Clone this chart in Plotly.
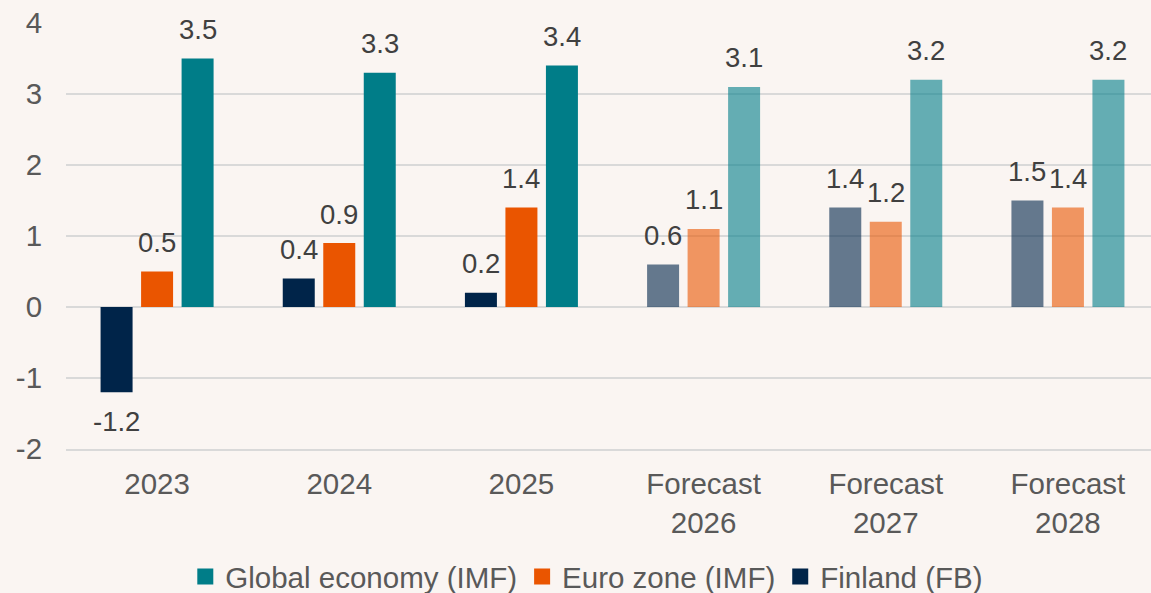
import plotly.graph_objects as go

categories = ["2023", "2024", "2025", "Forecast<br>2026", "Forecast<br>2027", "Forecast<br>2028"]
finland = [-1.2, 0.4, 0.2, 0.6, 1.4, 1.5]
euro_zone = [0.5, 0.9, 1.4, 1.1, 1.2, 1.4]
global_economy = [3.5, 3.3, 3.4, 3.1, 3.2, 3.2]
is_forecast = [False, False, False, True, True, True]
y_ticks = [-2, -1, 0, 1, 2, 3, 4]
y_tick_labels = ["-2", "-1", "0", "1", "2", "3", "4"]

BG = "#FAF5F2"
FONT = "Liberation Sans, Arial, sans-serif"
series = [
    ("Finland (FB)", finland, "0,36,73", -40.5),
    ("Euro zone (IMF)", euro_zone, "234,85,0", 0.0),
    ("Global economy (IMF)", global_economy, "0,125,136", 40.5),
]

fig = go.Figure()
for name, vals, rgb, _ in series:
    cols = [f"rgba({rgb},{0.6 if f else 1})" for f in is_forecast]
    fig.add_trace(go.Bar(
        x=categories, y=vals, name=name, legendgroup=name, showlegend=False,
        marker=dict(color=cols, line=dict(width=0)),
        hoverinfo="x+y",
    ))
# legend entries (square swatches)
for name, vals, rgb, _ in series:
    fig.add_trace(go.Scatter(
        x=[None], y=[None], mode="markers", name=name, legendgroup=name,
        marker=dict(symbol="square", size=16, color=f"rgb({rgb})"),
        showlegend=True,
    ))

annotations = []
for name, vals, rgb, xs in series:
    for i, v in enumerate(vals):
        annotations.append(dict(
            x=i, y=v, xref="x", yref="y", text=f"{v:.1f}",
            showarrow=False, xshift=xs, yshift=29 if v >= 0 else -29,
            yanchor="middle", xanchor="center",
            font=dict(family=FONT, size=27.5, color="#404040"),
        ))

fig.update_layout(
    width=1151, height=593,
    paper_bgcolor=BG, plot_bgcolor=BG,
    margin=dict(l=66, r=0, t=23, b=144, autoexpand=False),
    barmode="group", bargap=0.333, bargroupgap=0.21,
    font=dict(family=FONT, size=29.5, color="#595959"),
    annotations=annotations,
    showlegend=True,
    legend=dict(orientation="h", traceorder="reversed",
                x=0.48, xanchor="center", y=-0.30, yanchor="middle",
                font=dict(family=FONT, size=29.5, color="#595959"),
                itemwidth=30, tracegroupgap=0,
                bgcolor="rgba(0,0,0,0)"),
    xaxis=dict(
        type="category", range=[-0.5, 5.456], automargin=False,
        showgrid=False, zeroline=False,
        showline=True, linecolor="#D9D9D9", linewidth=2,
        ticks="outside", ticklen=8, tickcolor="rgba(0,0,0,0)",
        tickfont=dict(family=FONT, size=29.5, color="#595959"),
    ),
    yaxis=dict(
        range=[-2, 4], tickvals=y_ticks, ticktext=y_tick_labels, automargin=False,
        showgrid=True, gridcolor="#D9D9D9", gridwidth=2,
        zeroline=True, zerolinecolor="#D9D9D9", zerolinewidth=2,
        showline=False,
        ticks="outside", ticklen=17, tickcolor="rgba(0,0,0,0)",
        tickfont=dict(family=FONT, size=29.5, color="#595959"),
    ),
)

fig.write_html(
    "out.html",
    config={"displayModeBar": False},
    post_script="document.body.style.margin='0';document.body.style.background='#FAF5F2';",
)
